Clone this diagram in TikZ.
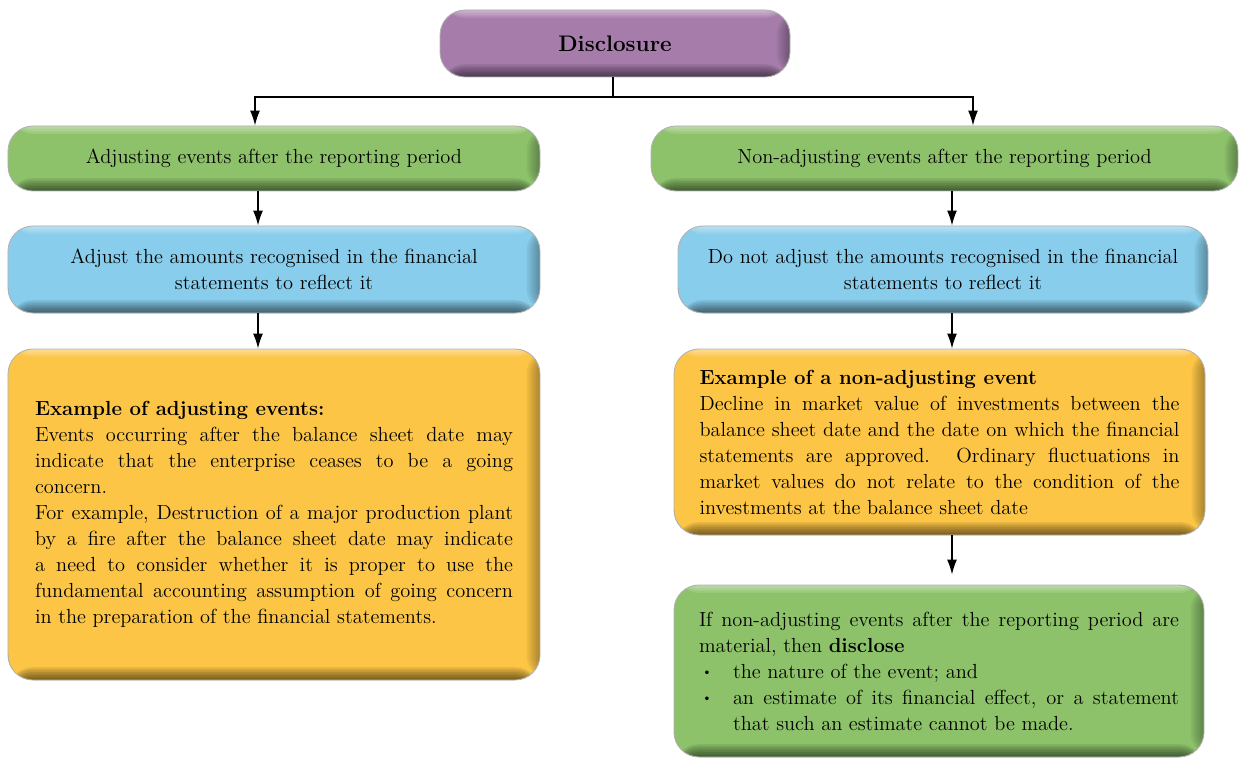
\documentclass[tikz,border=0pt]{standalone}
\usetikzlibrary{arrows.meta,positioning}
\definecolor{discpurple}{HTML}{A67CAB}
\definecolor{evgreen}{HTML}{8DC26B}
\definecolor{evblue}{HTML}{88CDEB}
\definecolor{evorange}{HTML}{FCC546}
\newcommand{\boxfont}{\fontsize{11.6}{14.8}\selectfont}
\newcommand{\evbullet}[1]{\par\hangindent=0.68cm\hangafter=1\noindent\makebox[0.68cm][l]{\hspace{0.5mm}\raisebox{.25ex}{\scriptsize\textbullet}}#1\par}

\begin{document}
\begin{tikzpicture}[
bev/.style={fill=#1,draw=black!30,line width=.5pt,rounded corners=5mm,font=\boxfont,inner sep=0pt,
  path picture={
   \foreach \i in {1,...,6}
     \fill[black,opacity=.055] ([xshift=-\i*0.45mm]path picture bounding box.north east) rectangle (path picture bounding box.south east);
   \foreach \i in {1,...,5}
     \fill[white,opacity=.1] (path picture bounding box.north west) rectangle ([yshift=-\i*0.32mm]path picture bounding box.north east);
   \foreach \i in {1,...,8}
     \fill[black,opacity=.08] ([yshift=\i*0.32mm]path picture bounding box.south west) rectangle (path picture bounding box.south east);
  }},
arr/.style={-{Latex[length=3mm,width=2mm]},line width=.8pt},
conn/.style={line width=.8pt}]
\useasboundingbox (0,0) rectangle (24.8,-15.16);
\node[bev=discpurple,minimum width=7cm,minimum height=1.34cm,font=\fontsize{12.8}{15}\selectfont\bfseries] (disc) at (12.3,-0.87) {Disclosure};
\node[bev=evgreen,minimum width=10.64cm,minimum height=1.3cm] (adj) at (5.48,-3.17) {Adjusting events after the reporting period};
\node[bev=evgreen,minimum width=11.74cm,minimum height=1.3cm] (nadj) at (18.89,-3.17) {Non-adjusting events after the reporting period};
\node[bev=evblue,minimum width=10.64cm,minimum height=1.74cm,align=center] (adjamt) at (5.48,-5.39) {Adjust the amounts recognised in the financial\\statements to reflect it};
\node[bev=evblue,minimum width=10.6cm,minimum height=1.74cm,align=center] (nadjamt) at (18.86,-5.39) {Do not adjust the amounts recognised in the financial\\statements to reflect it};
\node[bev=evorange,minimum width=10.64cm,minimum height=6.62cm,text width=9.56cm,align=justify] (adjex) at (5.48,-10.29) {\textbf{Example of adjusting events:}\par
Events occurring after the balance sheet date may\linebreak indicate that the enterprise ceases to be a going\linebreak concern.\par
For example, Destruction of a major production plant\linebreak by a fire after the balance sheet date may indicate\linebreak a need to consider whether it is proper to use the\linebreak fundamental accounting assumption of going concern\linebreak in the preparation of the financial statements.};
\node[bev=evorange,minimum width=10.62cm,minimum height=3.72cm,text width=9.6cm,align=justify] (nadjex) at (18.79,-8.84) {\textbf{Example of a non-adjusting event}\par
Decline in market value of investments between the\linebreak balance sheet date and the date on which the financial\linebreak statements are approved. Ordinary fluctuations in\linebreak market values do not relate to the condition of the\linebreak investments at the balance sheet date};
\node[bev=evgreen,minimum width=10.6cm,minimum height=3.44cm,text width=9.6cm,align=justify] (discl) at (18.78,-13.42) {If non-adjusting events after the reporting period are\linebreak material, then \textbf{disclose}
\evbullet{the nature of the event; and}
\evbullet{an estimate of its financial effect, or a statement\linebreak that such an estimate cannot be made.}};
\coordinate (stem) at (12.26,0);
\coordinate (fork) at (12.26,-1.94);
\coordinate (topL) at (5.1,0);
\coordinate (topR) at (19.46,0);
\coordinate (colL) at (5.16,0);
\coordinate (colR) at (19.04,0);
\draw[conn] (disc.south -| stem) -- (fork);
\draw[arr] (fork) -| (adj.north -| topL);
\draw[arr] (fork) -| (nadj.north -| topR);
\draw[arr] (adj.south -| colL) -- (adjamt.north -| colL);
\draw[arr] (adjamt.south -| colL) -- (adjex.north -| colL);
\draw[arr] (nadj.south -| colR) -- (nadjamt.north -| colR);
\draw[arr] (nadjamt.south -| colR) -- (nadjex.north -| colR);
\draw[arr] (nadjex.south -| colR) -- ([yshift=2mm]discl.north -| colR);
\end{tikzpicture}
\end{document}
